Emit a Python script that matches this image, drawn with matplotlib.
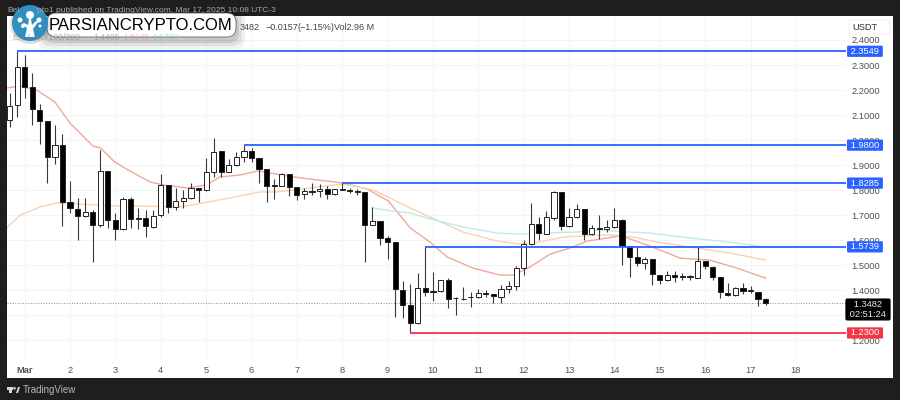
import matplotlib
matplotlib.use('Agg')
from matplotlib import pyplot as plt
from matplotlib.patches import Circle, FancyBboxPatch, Polygon, Rectangle
from matplotlib.transforms import blended_transform_factory

plt.rcParams['font.family'] = ['Liberation Sans', 'DejaVu Sans']

opens = [2.080, 2.140, 2.292, 2.212, 2.120, 2.076, 1.933, 1.981, 1.753, 1.725,
         1.697, 1.713, 1.661, 1.877, 1.681, 1.645, 1.765, 1.689, 1.689, 1.653,
         1.701, 1.821, 1.733, 1.757, 1.769, 1.809, 1.801, 1.873, 1.957, 1.873,
         1.901, 1.933, 1.957, 1.929, 1.885, 1.821, 1.817, 1.865, 1.813, 1.785,
         1.797, 1.797, 1.805, 1.785, 1.805, 1.801, 1.795, 1.792, 1.661, 1.677,
         1.609, 1.593, 1.401, 1.342, 1.270, 1.409, 1.397, 1.397, 1.441, 1.370,
         1.366, 1.374, 1.374, 1.389, 1.385, 1.374, 1.405, 1.417, 1.489, 1.585,
         1.665, 1.625, 1.689, 1.793, 1.657, 1.693, 1.725, 1.625, 1.649, 1.645,
         1.653, 1.681, 1.577, 1.533, 1.509, 1.525, 1.461, 1.441, 1.461, 1.457,
         1.457, 1.449, 1.517, 1.493, 1.453, 1.389, 1.381, 1.409, 1.401, 1.393,
         1.3639]
closes = [2.136, 2.292, 2.212, 2.124, 2.076, 1.933, 1.981, 1.753, 1.729, 1.697,
          1.713, 1.661, 1.877, 1.681, 1.645, 1.765, 1.685, 1.686, 1.657, 1.697,
          1.821, 1.733, 1.757, 1.769, 1.809, 1.801, 1.873, 1.953, 1.873, 1.901,
          1.933, 1.957, 1.929, 1.885, 1.817, 1.817, 1.865, 1.813, 1.781, 1.797,
          1.794, 1.805, 1.785, 1.805, 1.801, 1.797, 1.792, 1.661, 1.677, 1.609,
          1.593, 1.405, 1.342, 1.270, 1.409, 1.393, 1.394, 1.441, 1.366, 1.368,
          1.364, 1.372, 1.389, 1.385, 1.377, 1.405, 1.417, 1.489, 1.585, 1.665,
          1.629, 1.693, 1.793, 1.657, 1.693, 1.725, 1.625, 1.649, 1.647, 1.653,
          1.681, 1.577, 1.533, 1.509, 1.525, 1.465, 1.441, 1.461, 1.453, 1.455,
          1.453, 1.517, 1.497, 1.453, 1.393, 1.381, 1.409, 1.397, 1.399, 1.3639,
          1.3482]
highs = [2.188, 2.3549, 2.340, 2.268, 2.144, 2.076, 2.060, 2.025, 1.837, 1.769,
         1.769, 1.721, 1.961, 1.877, 1.709, 1.773, 1.773, 1.729, 1.721, 1.721,
         1.865, 1.821, 1.809, 1.801, 1.829, 1.809, 1.929, 2.009, 1.957, 1.925,
         1.953, 1.980, 1.969, 1.929, 1.885, 1.845, 1.869, 1.865, 1.813, 1.809,
         1.829, 1.825, 1.817, 1.805, 1.8285, 1.809, 1.805, 1.792, 1.733, 1.677,
         1.617, 1.593, 1.437, 1.425, 1.469, 1.5739, 1.473, 1.441, 1.449, 1.372,
         1.413, 1.393, 1.405, 1.401, 1.385, 1.421, 1.437, 1.497, 1.601, 1.749,
         1.693, 1.717, 1.797, 1.793, 1.729, 1.745, 1.725, 1.661, 1.701, 1.681,
         1.729, 1.685, 1.577, 1.573, 1.533, 1.525, 1.461, 1.477, 1.477, 1.469,
         1.461, 1.573, 1.517, 1.497, 1.453, 1.429, 1.413, 1.429, 1.417, 1.393,
         1.370]
lows = [2.052, 2.092, 2.168, 2.060, 1.985, 1.829, 1.905, 1.657, 1.709, 1.601,
        1.693, 1.513, 1.653, 1.649, 1.601, 1.641, 1.649, 1.645, 1.613, 1.649,
        1.693, 1.709, 1.721, 1.729, 1.765, 1.753, 1.797, 1.853, 1.853, 1.873,
        1.897, 1.913, 1.913, 1.829, 1.753, 1.765, 1.817, 1.777, 1.761, 1.765,
        1.781, 1.773, 1.765, 1.781, 1.801, 1.789, 1.781, 1.513, 1.661, 1.581,
        1.525, 1.294, 1.290, 1.230, 1.266, 1.377, 1.358, 1.393, 1.330, 1.302,
        1.362, 1.334, 1.370, 1.374, 1.350, 1.350, 1.389, 1.401, 1.461, 1.581,
        1.601, 1.625, 1.681, 1.641, 1.653, 1.689, 1.601, 1.621, 1.605, 1.633,
        1.649, 1.501, 1.453, 1.497, 1.485, 1.421, 1.425, 1.437, 1.433, 1.441,
        1.441, 1.449, 1.485, 1.441, 1.369, 1.377, 1.377, 1.385, 1.389, 1.338,
        1.342]

ema_red_x = [-0.4, 0.45, 1.4, 3.6, 6.0, 8.0, 11.0, 12.0, 13.9, 15.9, 18.6, 20.3,
             23.6, 26.1, 27.8, 30.5, 32.9, 37.5, 44.0, 47.3, 50.1, 53.0, 55.6,
             57.9, 61.3, 64.9, 66.6, 68.8, 71.5, 74.1, 76.4, 79.0, 80.5, 81.7,
             84.7, 88.7, 90.4, 92.6, 96.2, 100.0]
ema_red_y = [2.208, 2.212, 2.216, 2.200, 2.152, 2.068, 1.977, 1.969, 1.913, 1.877,
             1.833, 1.821, 1.809, 1.821, 1.853, 1.861, 1.877, 1.853, 1.829, 1.805,
             1.757, 1.649, 1.593, 1.533, 1.489, 1.461, 1.461, 1.493, 1.545, 1.569,
             1.597, 1.609, 1.617, 1.609, 1.577, 1.529, 1.525, 1.521, 1.489, 1.449]
ema_orange_x = [-0.4, 1.4, 4.0, 6.3, 8.9, 12.0, 14.2, 16.8, 22.5, 24.8, 29.1, 33.1,
                35.4, 44.0, 48.1, 50.3, 53.0, 55.6, 60.0, 64.5, 67.5, 70.2, 73.2,
                78.0, 79.8, 82.5, 85.6, 90.9, 95.3, 100.0]
ema_orange_y = [1.649, 1.701, 1.733, 1.749, 1.745, 1.741, 1.737, 1.737, 1.733, 1.745,
                1.769, 1.793, 1.793, 1.825, 1.801, 1.769, 1.729, 1.693, 1.633, 1.597,
                1.585, 1.593, 1.613, 1.621, 1.621, 1.613, 1.593, 1.569, 1.549, 1.521]
ema_cyan_x = [48.0, 50.7, 53.0, 55.6, 60.0, 64.5, 67.5, 71.1, 75.0, 78.0, 82.0, 84.7,
              90.0, 95.3, 100.0]
ema_cyan_y = [1.729, 1.717, 1.709, 1.685, 1.653, 1.629, 1.625, 1.629, 1.633, 1.641,
              1.633, 1.629, 1.609, 1.593, 1.573]

# price level, candle it starts from, colour
levels = [2.3549, 1.9800, 1.8285, 1.5739, 1.2300]
level_starts = [1, 31, 44, 55, 53]
level_colors = ['#2962ff', '#2962ff', '#2962ff', '#2962ff', '#f23645']

last_price = 1.3482
price_ticks = [1.2, 1.3, 1.4, 1.5, 1.6, 1.7, 1.8, 1.9, 2.0, 2.1, 2.2, 2.3, 2.4]
day_labels = ['Mar', '2', '3', '4', '5', '6', '7', '8', '9', '10', '11', '12', '13',
              '14', '15', '16', '17', '18']
day_ticks = [2 + 6 * i for i in range(len(day_labels))]

dark = '#1e1e1e'
fig = plt.figure(figsize=(9, 4), dpi=100, facecolor=dark)

# White panel behind chart and price scale, pixel coordinates from the top left
over = fig.add_axes([0, 0, 1, 1], zorder=0)
over.set_xlim(0, 900)
over.set_ylim(400, 0)
over.axis('off')
over.add_patch(Rectangle((7, 16), 886, 362, facecolor='white', edgecolor='none'))

ax = fig.add_axes([7 / 900, 40 / 400, 839 / 900, 344 / 400], zorder=1)
ax.patch.set_alpha(0)
for spine in ax.spines.values():
    spine.set_visible(False)
ax.set_xlim(-0.34, 110.63)
ax.set_ylim(1.122, 2.4958)
ax.yaxis.tick_right()
ax.set_yticks(price_ticks)
ax.set_yticklabels(['%.4f' % p for p in price_ticks])
ax.set_xticks(day_ticks)
ax.set_xticklabels(day_labels)
ax.tick_params(axis='both', length=0, labelsize=6.7, labelcolor='#505050')
ax.tick_params(axis='y', pad=4)
ax.tick_params(axis='x', pad=4)
ax.get_xticklabels()[0].set_fontweight('bold')
ax.grid(color='#f4f4f4', linewidth=0.7)
ax.set_axisbelow(True)

ax.plot(ema_red_x, ema_red_y, color='#f0a89c', linewidth=1.0, zorder=2)
ax.plot(ema_orange_x, ema_orange_y, color='#f9d2b2', linewidth=1.0, zorder=2)
ax.plot(ema_cyan_x, ema_cyan_y, color='#bcecea', linewidth=1.0, zorder=2)

ax.axhline(last_price, color='#8a8a8a', linewidth=0.7, linestyle=':', zorder=2)

xs = list(range(len(opens)))
ax.vlines(xs, lows, highs, color='#3a3a3a', linewidth=0.8, zorder=3)
for x, o, c in zip(xs, opens, closes):
    up = c >= o
    ax.bar(x, abs(c - o), bottom=min(o, c), width=0.68,
           facecolor='white' if up else 'black', edgecolor='#222222',
           linewidth=0.7, zorder=4)

label_trans = blended_transform_factory(ax.transAxes, ax.transData)
for level, start, colour in zip(levels, level_starts, level_colors):
    ax.plot([start, 110.63], [level, level], color=colour, linewidth=1.3, zorder=5,
            solid_capstyle='butt')
    ax.text(1.0226, level, ' %.4f ' % level, transform=label_trans, color='white',
            fontsize=6.7, ha='center', va='center', zorder=10, clip_on=False,
            bbox=dict(boxstyle='round,pad=0.12', facecolor=colour, edgecolor='none'))

ax.text(1.0262, last_price - 0.0245, ' %.4f \n 02:51:24 ' % last_price, transform=label_trans,
        color='#e8e8e8', fontsize=6.7, ha='center', va='center', zorder=10, linespacing=1.05,
        clip_on=False, bbox=dict(boxstyle='round,pad=0.2', facecolor='black', edgecolor='none'))

# Everything painted on top of the chart
top = fig.add_axes([0, 0, 1, 1], zorder=5)
top.set_xlim(0, 900)
top.set_ylim(400, 0)
top.axis('off')
top.patch.set_alpha(0)

top.add_patch(FancyBboxPatch((849, 20), 41, 14, boxstyle='round,pad=0,rounding_size=2',
                             facecolor='white', edgecolor='#eeeeee', linewidth=0.6))
top.text(865, 27, 'USDT', fontsize=6.7, color='#333333', ha='center', va='center')

# the username is mostly covered by the watermark
top.text(7, 10, 'Bel', fontsize=6, color='#a8a8a8', va='center')
top.text(37, 10, 'pto1 published on TradingView.com, Mar 17, 2025 10:08 UTC-3',
         fontsize=6, color='#a8a8a8', va='center')
top.text(240, 27, '3482', fontsize=6.5, color='#444444', va='center')
top.text(265, 27, '\u22120.0157', fontsize=6.5, color='#444444', va='center')
top.text(297, 27, '(\u22121.15%)', fontsize=6.5, color='#444444', va='center')
top.text(334, 27, 'Vol2.96 M', fontsize=6.5, color='#444444', va='center')
top.text(13, 37, 'EMA (50/100/200', fontsize=6.2, color='#777777', va='center', alpha=0.55)
top.text(93, 37, '1.4495', fontsize=6.2, color='#777777', va='center', alpha=0.5)
top.text(123, 37, '1.5245', fontsize=6.2, color='#e58c80', va='center', alpha=0.5)
top.text(152, 37, '1.5739', fontsize=6.2, color='#6fc9d0', va='center', alpha=0.5)

# Watermark pill with a soft shadow
for grow, alpha in [(9, 0.05), (6, 0.07), (3, 0.1)]:
    top.add_patch(FancyBboxPatch((47 - grow, 17 - grow), 189 + 2 * grow, 23 + 2 * grow,
                                 boxstyle='round,pad=0,rounding_size=10', facecolor='black',
                                 edgecolor='none', alpha=alpha))
top.add_patch(FancyBboxPatch((47, 13), 189, 24, boxstyle='round,pad=0,rounding_size=9',
                             facecolor='white', edgecolor='#666666', linewidth=0.6))
top.text(49, 25.5, 'PARSIANCRYPTO.COM', fontsize=12, color='black', va='center')

top.add_patch(Circle((30, 24), 20, facecolor='black', alpha=0.12, edgecolor='none'))
top.add_patch(Circle((30, 23), 18, facecolor='#2f8fc0', edgecolor='none'))
top.add_patch(Polygon([(25, 37), (27, 28), (22, 24), (24, 23), (28, 25), (29, 19), (31, 19),
                       (32, 25), (36, 21), (38, 22), (33, 29), (35, 37)],
                      facecolor='white', edgecolor='none'))
for cx, cy, r in [(30, 15, 4), (20, 20, 2.5), (39, 20, 2.5), (23, 26, 2), (40, 26, 1.5)]:
    top.add_patch(Circle((cx, cy), r, facecolor='white', edgecolor='none'))

# TradingView footer mark
top.add_patch(Rectangle((7, 387), 6, 2.5, facecolor='#d8d8d8', edgecolor='none'))
top.add_patch(Rectangle((9, 387), 2.5, 6, facecolor='#d8d8d8', edgecolor='none'))
top.add_patch(Circle((14.5, 388.3), 1.3, facecolor='#d8d8d8', edgecolor='none'))
top.add_patch(Polygon([(16, 393), (18, 387), (20, 387), (18, 393)], facecolor='#d8d8d8',
                      edgecolor='none'))
top.text(23, 390, 'TradingView', fontsize=7, color='#b5b5b5', va='center')

fig.savefig('out.png', dpi=100, facecolor=dark)
